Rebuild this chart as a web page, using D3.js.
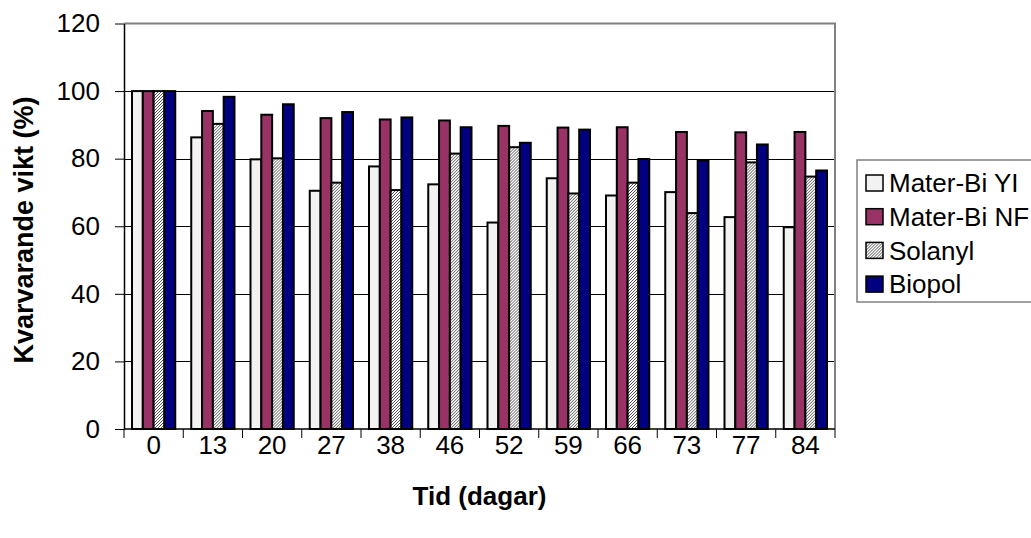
<!DOCTYPE html>
<html>
<head>
<meta charset="utf-8">
<script src="https://cdn.jsdelivr.net/npm/d3@7"></script>
<style>
  html, body { margin: 0; padding: 0; background: #fff; overflow: hidden; }
  svg { display: block; }
  text { font-family: "Liberation Sans", Arial, sans-serif; fill: #000; }
</style>
</head>
<body>
<svg id="chart" width="1031" height="538"></svg>
<script>
// Days of measurement (x categories)
const days = ["0", "13", "20", "27", "38", "46", "52", "59", "66", "73", "77", "84"];
// Remaining weight (%) per material
const materBiYI = [100, 86.3, 79.8, 70.5, 77.7, 72.4, 61.1, 74.2, 69.1, 70.1, 62.7, 59.7];
const materBiNF = [100, 94.1, 93.0, 92.0, 91.6, 91.3, 89.7, 89.2, 89.3, 87.9, 87.8, 87.9];
const solanyl   = [100, 90.3, 80.1, 72.9, 70.7, 81.5, 83.4, 69.7, 72.9, 63.9, 78.9, 74.7];
const biopol    = [100, 98.3, 96.1, 93.8, 92.2, 89.3, 84.7, 88.6, 79.9, 79.5, 84.2, 76.5];
const seriesNames = ["Mater-Bi YI", "Mater-Bi NF", "Solanyl", "Biopol"];
const yTicks = [0, 20, 40, 60, 80, 100, 120];

const seriesValues = [materBiYI, materBiNF, solanyl, biopol];
const fills = ["#f2f2f2", "#993366", "url(#hatch)", "#000080"];

const svg = d3.select("#chart");

// Fine diagonal hatch for Solanyl
const defs = svg.append("defs");
const pat = defs.append("pattern")
  .attr("id", "hatch")
  .attr("patternUnits", "userSpaceOnUse")
  .attr("width", 3).attr("height", 3);
pat.append("rect").attr("width", 3).attr("height", 3).attr("fill", "#ffffff");
pat.append("path")
  .attr("d", "M-1,1 l2,-2 M0,3 l3,-3 M2,4 l2,-2")
  .attr("stroke", "#555").attr("stroke-width", 1);

const plot = { left: 124, right: 835, top: 23.5, bottom: 429 };

const x0 = d3.scaleBand().domain(days).range([plot.left, plot.right]).padding(0);
const groupInner = x0.bandwidth() * 0.73;
const x1 = d3.scaleBand().domain(d3.range(4))
  .range([(x0.bandwidth() - groupInner) / 2, (x0.bandwidth() + groupInner) / 2]).padding(0);
const y = d3.scaleLinear().domain([0, 120]).range([plot.bottom, plot.top]);

// Gridlines
svg.append("g")
  .selectAll("line")
  .data(yTicks.filter(d => d > 0 && d < 120))
  .join("line")
  .attr("x1", plot.left).attr("x2", plot.right)
  .attr("y1", d => Math.round(y(d)) + 0.5).attr("y2", d => Math.round(y(d)) + 0.5)
  .attr("stroke", "#000").attr("stroke-width", 1);

// Plot area border (top and right)
svg.append("path")
  .attr("d", `M${plot.left},${y(120)}H${plot.right}V${plot.bottom}`)
  .attr("fill", "none").attr("stroke", "#808080").attr("stroke-width", 2);

// Bars
const groups = svg.append("g").selectAll("g")
  .data(days)
  .join("g")
  .attr("transform", d => `translate(${x0(d)},0)`);

groups.selectAll("rect")
  .data((d, i) => seriesValues.map((vals, s) => ({ s, v: vals[i] })))
  .join("rect")
  .attr("x", d => x1(d.s))
  .attr("width", x1.bandwidth())
  .attr("y", d => y(d.v))
  .attr("height", d => y(0) - y(d.v))
  .attr("fill", d => fills[d.s])
  .attr("stroke", "#000")
  .attr("stroke-width", 2);

// Y axis
const yAxis = d3.axisLeft(y).tickValues(yTicks).tickSize(9).tickSizeOuter(0);
const gy = svg.append("g").attr("transform", `translate(${plot.left},0)`).call(yAxis);
gy.select(".domain").attr("stroke", "#000").attr("stroke-width", 1.5);
gy.selectAll(".tick line").attr("stroke", "#000");
gy.selectAll(".tick text")
  .attr("x", -24)
  .style("font-size", "26px")
  .style("font-family", "'Liberation Sans', Arial, sans-serif");

// X axis: ticks between categories, labels centred under groups
const gx = svg.append("g").attr("transform", `translate(0,${plot.bottom})`);
gx.append("line").attr("x1", plot.left).attr("x2", plot.right)
  .attr("stroke", "#000").attr("stroke-width", 1.5);
const bounds = days.map(d => x0(d)).concat([plot.right]);
gx.selectAll("line.tk").data(bounds).join("line")
  .attr("class", "tk")
  .attr("x1", d => d).attr("x2", d => d)
  .attr("y1", 0).attr("y2", 9)
  .attr("stroke", "#000");
gx.selectAll("text").data(days).join("text")
  .attr("x", d => x0(d) + x0.bandwidth() / 2)
  .attr("y", 25)
  .attr("text-anchor", "middle")
  .style("font-size", "26px")
  .text(d => d);

// Axis titles
svg.append("text")
  .attr("x", (plot.left + plot.right) / 2)
  .attr("y", 505)
  .attr("text-anchor", "middle")
  .style("font-size", "26px").style("font-weight", "bold")
  .text("Tid (dagar)");
svg.append("text")
  .attr("transform", `translate(33,230) rotate(-90)`)
  .attr("text-anchor", "middle")
  .style("font-size", "27px").style("font-weight", "bold")
  .text("Kvarvarande vikt (%)");

// Legend
const legend = svg.append("g").attr("transform", "translate(857,160)");
legend.append("rect")
  .attr("width", 190).attr("height", 142)
  .attr("fill", "#fff").attr("stroke", "#808080").attr("stroke-width", 1.5);
const items = legend.selectAll("g.item").data(seriesNames)
  .join("g").attr("class", "item")
  .attr("transform", (d, i) => `translate(9,${23 + i * 33.7})`);
items.append("rect")
  .attr("x", 0).attr("y", -8).attr("width", 17).attr("height", 16)
  .attr("fill", (d, i) => fills[i]).attr("stroke", "#000").attr("stroke-width", 1.5);
items.append("text")
  .attr("x", 23).attr("y", 0).attr("dy", "0.36em")
  .style("font-size", "26px")
  .text(d => d);
</script>
</body>
</html>
